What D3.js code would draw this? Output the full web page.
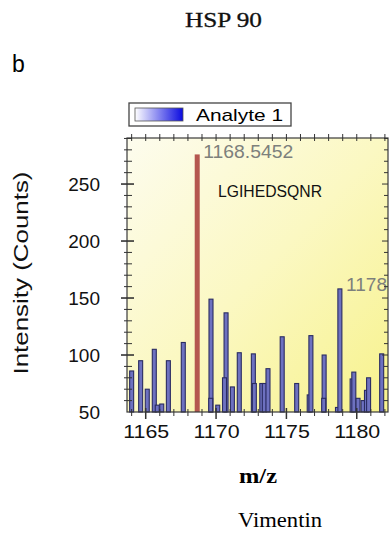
<!DOCTYPE html>
<html>
<head>
<meta charset="utf-8">
<script src="https://cdn.jsdelivr.net/npm/d3@7"></script>
<style>
  html, body { margin: 0; padding: 0; background: #fff; }
  svg { display: block; }
</style>
</head>
<body>
<div id="chart"></div>
<script>
// peak list
var mz = [1164.0, 1164.64, 1165.11, 1165.61, 1165.82, 1166.14, 1166.61, 1167.67,
  1169.64, 1169.62, 1170.12, 1170.71, 1170.6, 1171.16, 1171.65, 1172.65, 1172.72,
  1173.25, 1173.43, 1173.69, 1174.70, 1175.73, 1176.62, 1176.74, 1177.68, 1177.65,
  1178.63, 1178.80, 1179.67, 1179.79, 1180.09, 1180.45, 1180.69, 1180.84, 1181.77];
var intensity = [86, 95, 70, 105, 56, 57, 95, 111,
  149, 62, 56, 137, 80, 72, 102, 101, 75,
  75, 75, 88, 116, 75, 65, 117, 100, 62,
  54, 158, 79, 85, 62, 60, 69, 80, 101];

// highlighted peptide peak
var peakMz = [1168.66];
var peakIntensity = [276];
var peakLabel = "1168.5452";
var peptide = "LGIHEDSQNR";
var sideLabel = "1178";

var yTicks = [50, 100, 150, 200, 250];
var xTicks = [1165, 1170, 1175, 1180];

var width = 391, height = 539;
var margin = { top: 138, right: 3, bottom: 127, left: 127 };
var w = width - margin.left - margin.right;
var h = height - margin.top - margin.bottom;

var svg = d3.select("#chart").append("svg")
  .attr("width", width)
  .attr("height", height);

var defs = svg.append("defs");
var bg = defs.append("linearGradient").attr("id", "bg")
  .attr("x1", 0).attr("y1", 0).attr("x2", 1).attr("y2", 1);
bg.append("stop").attr("offset", "0%").attr("stop-color", "#fdfcee");
bg.append("stop").attr("offset", "50%").attr("stop-color", "#fbf8c2");
bg.append("stop").attr("offset", "100%").attr("stop-color", "#f7f28c");

var sw = defs.append("linearGradient").attr("id", "swatch");
sw.append("stop").attr("offset", "0%").attr("stop-color", "#ffffff");
sw.append("stop").attr("offset", "100%").attr("stop-color", "#0a0ae0");

var x = d3.scaleLinear().domain([1163.67, 1182.22]).range([0, w]);
var y = d3.scaleLinear().domain([50, 290.4]).range([h, 0]);

// titles
svg.append("text")
  .attr("x", 223.5).attr("y", 27)
  .attr("text-anchor", "middle")
  .attr("textLength", 77).attr("lengthAdjust", "spacingAndGlyphs")
  .style("font-family", "'Liberation Serif', 'DejaVu Serif', serif")
  .style("font-size", "21px")
  .attr("fill", "#111")
  .attr("stroke", "#111").attr("stroke-width", 0.3)
  .text("HSP 90");

svg.append("text")
  .attr("x", 12).attr("y", 72)
  .style("font-family", "'Liberation Sans', Arial, sans-serif")
  .style("font-size", "23px")
  .text("b");

// legend
var leg = svg.append("g");
leg.append("rect")
  .attr("x", 129).attr("y", 103).attr("width", 162).attr("height", 23)
  .attr("fill", "#fff").attr("stroke", "#444").attr("stroke-width", 1.3);
leg.append("rect")
  .attr("x", 135).attr("y", 108).attr("width", 48).attr("height", 13)
  .attr("fill", "url(#swatch)").attr("stroke", "#555").attr("stroke-width", 0.8);
leg.append("text")
  .attr("x", 196).attr("y", 121)
  .attr("textLength", 87).attr("lengthAdjust", "spacingAndGlyphs")
  .style("font-family", "'Liberation Sans', Arial, sans-serif")
  .style("font-size", "17px")
  .text("Analyte 1");

var g = svg.append("g")
  .attr("transform", "translate(" + margin.left + "," + margin.top + ")");

g.append("rect")
  .attr("width", w).attr("height", h)
  .attr("fill", "url(#bg)");

// bars
g.selectAll(".bar")
  .data(d3.range(mz.length))
  .enter().append("rect")
  .attr("class", "bar")
  .attr("x", function (i) { return x(mz[i]) - 2; })
  .attr("width", 4)
  .attr("y", function (i) { return y(intensity[i]); })
  .attr("height", function (i) { return y(50) - y(intensity[i]); })
  .attr("fill", "#6d71c0")
  .attr("stroke", "#2a2c62")
  .attr("stroke-width", 1.1);

g.selectAll(".peak")
  .data(d3.range(peakMz.length))
  .enter().append("rect")
  .attr("class", "peak")
  .attr("x", function (i) { return x(peakMz[i]) - 2.5; })
  .attr("width", 5)
  .attr("y", function (i) { return y(peakIntensity[i]); })
  .attr("height", function (i) { return y(50) - y(peakIntensity[i]); })
  .attr("fill", "#b4574f");

// annotations
g.append("text")
  .attr("x", x(peakMz[0]) + 6).attr("y", y(peakIntensity[0]) + 4)
  .attr("textLength", 90).attr("lengthAdjust", "spacingAndGlyphs")
  .style("font-family", "'Liberation Sans', Arial, sans-serif")
  .style("font-size", "18px")
  .attr("fill", "#7d807c")
  .text(peakLabel);

g.append("text")
  .attr("x", 91).attr("y", y(239))
  .attr("textLength", 104).attr("lengthAdjust", "spacingAndGlyphs")
  .style("font-family", "'Liberation Sans', Arial, sans-serif")
  .style("font-size", "16px")
  .attr("fill", "#111")
  .text(peptide);

g.append("text")
  .attr("x", 219).attr("y", y(156))
  .attr("textLength", 41).attr("lengthAdjust", "spacingAndGlyphs")
  .style("font-family", "'Liberation Sans', Arial, sans-serif")
  .style("font-size", "18px")
  .attr("fill", "#7d807c")
  .text(sideLabel);

// frame
g.append("rect")
  .attr("width", w).attr("height", h)
  .attr("fill", "none").attr("stroke", "#3a3a3a").attr("stroke-width", 1.2);

var tickColor = "#333";
var minorX = d3.range(1164, 1183, 1);
var minorY = d3.range(60, 291, 10);

// bottom ticks
g.selectAll(".bx").data(minorX).enter().append("line")
  .attr("x1", function (d) { return x(d); }).attr("x2", function (d) { return x(d); })
  .attr("y1", function (d) { return h - (d % 5 === 0 ? 4 : 3); })
  .attr("y2", function (d) { return h + (d % 5 === 0 ? 7 : 4); })
  .attr("stroke", tickColor).attr("stroke-width", function (d) { return d % 5 === 0 ? 1.5 : 1; });

// top ticks
g.selectAll(".tx").data(minorX).enter().append("line")
  .attr("x1", function (d) { return x(d); }).attr("x2", function (d) { return x(d); })
  .attr("y1", -4).attr("y2", 3)
  .attr("stroke", tickColor).attr("stroke-width", 1);

// left ticks
g.selectAll(".ly").data(minorY).enter().append("line")
  .attr("y1", function (d) { return y(d); }).attr("y2", function (d) { return y(d); })
  .attr("x1", function (d) { return d % 50 === 0 ? -6 : -3; })
  .attr("x2", function (d) { return d % 50 === 0 ? 7 : 5; })
  .attr("stroke", tickColor).attr("stroke-width", function (d) { return d % 50 === 0 ? 1.6 : 1; });

// right ticks
g.selectAll(".ry").data(minorY).enter().append("line")
  .attr("y1", function (d) { return y(d); }).attr("y2", function (d) { return y(d); })
  .attr("x1", function (d) { return w - (d % 50 === 0 ? 6 : 4); })
  .attr("x2", w)
  .attr("stroke", tickColor).attr("stroke-width", 1);

// axis labels
var yAxis = g.append("g")
  .attr("transform", "translate(-27,0)")
  .call(d3.axisLeft(y).tickValues(yTicks).tickSize(0).tickPadding(0));
yAxis.select(".domain").remove();
yAxis.selectAll("text")
  .style("font-family", "'Liberation Sans', Arial, sans-serif")
  .style("font-size", "19px")
  .attr("fill", "#111");

var xAxis = g.append("g")
  .attr("transform", "translate(0," + h + ")")
  .call(d3.axisBottom(x).tickValues(xTicks).tickFormat(d3.format("d")).tickSize(0).tickPadding(13));
xAxis.select(".domain").remove();
xAxis.selectAll("text")
  .attr("textLength", 46).attr("lengthAdjust", "spacingAndGlyphs")
  .style("font-family", "'Liberation Sans', Arial, sans-serif")
  .style("font-size", "19px")
  .attr("fill", "#111");

svg.append("text")
  .attr("transform", "translate(28,273) rotate(-90)")
  .attr("text-anchor", "middle")
  .attr("textLength", 203).attr("lengthAdjust", "spacingAndGlyphs")
  .style("font-family", "'Liberation Sans', Arial, sans-serif")
  .style("font-size", "20px")
  .attr("fill", "#111")
  .text("Intensity (Counts)");

svg.append("text")
  .attr("x", 258).attr("y", 483)
  .attr("text-anchor", "middle")
  .attr("textLength", 38).attr("lengthAdjust", "spacingAndGlyphs")
  .style("font-family", "'Liberation Serif', 'DejaVu Serif', serif")
  .style("font-size", "21px")
  .style("font-weight", "bold")
  .text("m/z");

svg.append("text")
  .attr("x", 280).attr("y", 527)
  .attr("text-anchor", "middle")
  .attr("textLength", 84).attr("lengthAdjust", "spacingAndGlyphs")
  .style("font-family", "'Liberation Serif', 'DejaVu Serif', serif")
  .style("font-size", "22px")
  .text("Vimentin");
</script>
</body>
</html>
